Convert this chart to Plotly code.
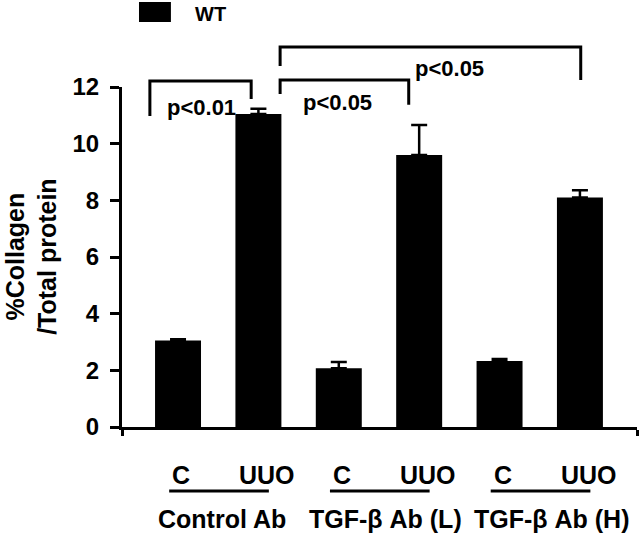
import plotly.graph_objects as go

# ---- data ----
conditions = ["C", "UUO", "C", "UUO", "C", "UUO"]
groups = ["Control Ab", "TGF-β Ab (L)", "TGF-β Ab (H)"]
collagen = [3.05, 11.05, 2.07, 9.6, 2.33, 8.1]
sem = [0.05, 0.18, 0.22, 1.06, 0.07, 0.26]
y_ticks = [0, 2, 4, 6, 8, 10, 12]
series_name = "WT"
p_labels = ["p<0.01", "p<0.05", "p<0.05"]

# ---- layout helpers ----
FONT = "Liberation Sans, Arial, Helvetica, sans-serif"
W, H = 640, 534
ML, MR, MT, MB = 122, 3, 87, 107
X_RANGE = [-0.697, 5.71]
Y_MAX = 12.0
xpos = list(range(len(collagen)))

def ypaper(v):
    return v / Y_MAX

fig = go.Figure()
fig.add_trace(go.Bar(
    x=xpos, y=collagen, name=series_name,
    marker=dict(color="black", line=dict(width=0)),
    width=0.572,
    error_y=dict(type="data", array=sem, arrayminus=[0] * len(sem),
                 symmetric=False, color="black", thickness=2.5, width=8),
    showlegend=False,
))

shapes = []
annotations = []

def txt(**kw):
    d = dict(showarrow=False, xanchor="center", yanchor="middle")
    d.update(kw)
    return d

# significance brackets: x-left, x-right, top, left-leg bottom, right-leg bottom, label x, label y
brackets = [
    (-0.35, 0.91, 12.21, 10.98, 11.58, 0.286, 11.26),
    (1.27, 2.87, 12.25, 11.75, 11.37, 1.98, 11.44),
    (1.27, 5.01, 13.41, 12.74, 12.25, 3.38, 12.67),
]
for (xl, xr, top, lb, rb, lx, ly), lab in zip(brackets, p_labels):
    path = (f"M {xl} {ypaper(lb)} L {xl} {ypaper(top)} "
            f"L {xr} {ypaper(top)} L {xr} {ypaper(rb)}")
    shapes.append(dict(type="path", path=path, xref="x", yref="paper",
                       line=dict(color="black", width=3)))
    annotations.append(txt(x=lx, y=ypaper(ly), xref="x", yref="paper",
                           text=f"<b>{lab}</b>",
                           font=dict(family=FONT, size=22, color="black")))

# condition labels and underline per group
shifts = {"C": 3, "UUO": 9}
for i, c in enumerate(conditions):
    annotations.append(txt(x=xpos[i], y=-0.141, xref="x", yref="paper",
                           text=f"<b>{c}</b>", xshift=shifts[c],
                           font=dict(family=FONT, size=25, color="black")))
group_shift = [4, 7, 12]
for g, name in enumerate(groups):
    a, b = xpos[2 * g], xpos[2 * g + 1]
    shapes.append(dict(type="line", xref="x", yref="paper",
                       x0=a - 0.11, x1=b + 0.13, y0=-0.188, y1=-0.188,
                       line=dict(color="black", width=3)))
    annotations.append(txt(x=(a + b) / 2, y=-0.27, xref="x", yref="paper",
                           text=f"<b>{name}</b>", xshift=group_shift[g],
                           font=dict(family=FONT, size=25, color="black")))

# y-axis title (two lines, rotated)
annotations.append(txt(x=-0.177, y=0.5, xref="paper", yref="paper",
                       text="<b>%Collagen</b><br><b>/Total protein</b>",
                       textangle=-90,
                       font=dict(family=FONT, size=25, color="black")))

# legend (manual)
shapes.append(dict(type="rect", xref="paper", yref="paper",
                   x0=0.033, x1=0.095, y0=1.191, y1=1.25,
                   fillcolor="black", line=dict(width=0)))
annotations.append(txt(x=0.138, y=1.215, xref="paper", yref="paper",
                       xanchor="left", text=f"<b>{series_name}</b>",
                       font=dict(family=FONT, size=20, color="black")))

fig.update_layout(
    width=W, height=H,
    margin=dict(l=ML, r=MR, t=MT, b=MB, pad=0),
    paper_bgcolor="white", plot_bgcolor="white",
    shapes=shapes, annotations=annotations,
    xaxis=dict(range=X_RANGE, showgrid=False, zeroline=False,
               showline=True, linecolor="black", linewidth=3,
               tickvals=[X_RANGE[0], X_RANGE[1]], ticktext=["", ""],
               ticks="outside", ticklen=6, tickwidth=3, tickcolor="black"),
    yaxis=dict(range=[0, Y_MAX], tickvals=y_ticks, showgrid=False,
               zeroline=False, showline=True, linecolor="black", linewidth=3,
               ticks="outside", ticklen=9, tickwidth=3, tickcolor="black",
               ticklabelstandoff=6,
               tickfont=dict(family=FONT, size=24, color="black", weight="bold")),
)

fig.write_html("out.html", config={"displayModeBar": False},
               post_script="document.body.style.margin='0px';")
